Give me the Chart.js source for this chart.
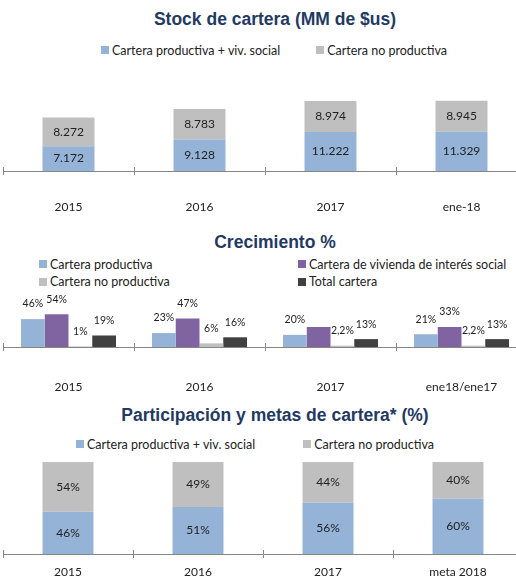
<!DOCTYPE html>
<html lang="es">
<head>
<meta charset="utf-8">
<title>Cartera</title>
<script src="https://cdn.jsdelivr.net/npm/chart.js@4.4.1/dist/chart.umd.min.js"></script>
<style>
    html, body { margin: 0; padding: 0; overflow: hidden; background: #fff; }
    body { width: 516px; height: 579px; position: relative; font-family: Lato, sans-serif; color: #222; }
    .title { position: absolute; left: 0; width: 550px; text-align: center; white-space: nowrap;
             font: bold 17.5px "Liberation Sans", Arial, sans-serif; line-height: 17.5px; color: #1F3A63; }
    .legend { position: absolute; display: flex; justify-content: center; white-space: nowrap;
              font-size: 12.5px; line-height: 15px; }
    .legend.grid { display: grid; grid-template-columns: 259px auto; row-gap: 2.5px; justify-content: start; }
    .legend .item { display: flex; align-items: center; }
    .legend .box { width: 8px; height: 8px; margin-right: 3px; }
    canvas { position: absolute; left: 0; }
</style>
</head>
<body>
<div class="title" style="top:11px">Stock de cartera (MM de $us)</div>
<div class="legend" id="legend1" style="top:42.5px; left:0; width:548px; gap:36px"></div>
<canvas id="stockChart" width="527" height="145" style="top:70px"></canvas>

<div class="title" style="top:234px">Crecimiento %</div>
<div class="legend grid" id="legend2" style="top:256.5px; left:39px"></div>
<canvas id="growthChart" width="527" height="109" style="top:286px"></canvas>

<div class="title" style="top:407px">Participación y metas de cartera* (%)</div>
<div class="legend" id="legend3" style="top:436.5px; left:0; width:510px; gap:48px"></div>
<canvas id="shareChart" width="523" height="122" style="top:458px"></canvas>

<script>
// Stock de cartera (MM de $us)
const stockYears = ['2015', '2016', '2017', 'ene-18'];
const stockProductiva = [7172, 9128, 11222, 11329];
const stockNoProductiva = [8272, 8783, 8974, 8945];

// Crecimiento %
const growthYears = ['2015', '2016', '2017', 'ene18/ene17'];
const growthProductiva = [46, 23, 20, 21];
const growthVivienda = [54, 47, 33, 33];
const growthNoProductiva = [1, 6, 2.2, 2.2];
const growthTotal = [19, 16, 13, 13];
const growthNoLabel = [[1, 2]]; // vivienda 2017 sin etiqueta

// Participación y metas de cartera* (%)
const shareYears = ['2015', '2016', '2017', 'meta 2018'];
const shareProductiva = [46, 51, 56, 60];
const shareNoProductiva = [54, 49, 44, 40];

const colBlue = '#95B3D7';
const colGray = '#BFBFBF';
const colPurple = '#8064A2';
const colDark = '#404040';
const axisColor = '#868686';

Chart.defaults.font.family = 'Lato, sans-serif';
Chart.defaults.color = '#222';
Chart.defaults.animation = false;

const fmtThousands = v => String(v).replace(/\B(?=(\d{3})+(?!\d))/g, '.');
const fmtPct = v => String(v).replace('.', ',') + '%';

const barLabels = {
    id: 'barLabels',
    afterDatasetsDraw(chart, args, opts) {
        const ctx = chart.ctx;
        ctx.save();
        ctx.font = opts.size + 'px Lato, sans-serif';
        ctx.fillStyle = '#222';
        ctx.textAlign = 'center';
        ctx.textBaseline = 'middle';
        chart.data.datasets.forEach((ds, di) => {
            chart.getDatasetMeta(di).data.forEach((bar, i) => {
                if ((opts.skip || []).some(s => s[0] === di && s[1] === i)) return;
                const y = opts.inside ? (bar.y + bar.base) / 2 : bar.y - opts.offset;
                ctx.fillText(opts.format(ds.data[i]), bar.x, y);
            });
        });
        ctx.restore();
    }
};

// marcas del eje que cruzan la línea
const crossTicks = {
    id: 'crossTicks',
    afterDraw(chart) {
        const sx = chart.scales.x;
        const n = chart.data.labels.length;
        const w = (sx.right - sx.left) / n;
        const ctx = chart.ctx;
        ctx.save();
        ctx.strokeStyle = axisColor;
        ctx.lineWidth = 1;
        ctx.beginPath();
        for (let i = 0; i <= n; i++) {
            const px = Math.round(sx.left + i * w) + 0.5;
            ctx.moveTo(px, sx.top - 4);
            ctx.lineTo(px, sx.top);
        }
        ctx.stroke();
        ctx.restore();
    }
};

function xAxis(stacked, padding, height) {
    return {
        stacked: stacked,
        offset: true,
        grid: { offset: true, drawOnChartArea: false, tickLength: 4, color: axisColor },
        border: { display: true, color: axisColor, width: 1 },
        ticks: { padding: padding, color: '#222', font: { size: 12 } },
        afterFit: scale => { scale.height = height; }
    };
}

function baseOptions(stacked, yMax, xPad, xHeight, labelOpts) {
    return {
        responsive: false,
        devicePixelRatio: 1,
        layout: { padding: { left: 3, top: 4, right: 0, bottom: 0 } },
        scales: {
            x: xAxis(stacked, xPad, xHeight),
            y: { display: false, stacked: stacked, min: 0, max: yMax }
        },
        plugins: {
            legend: { display: false },
            tooltip: { enabled: false },
            barLabels: labelOpts
        }
    };
}

function htmlLegend(id, chart) {
    const box = document.getElementById(id);
    chart.data.datasets.forEach(ds => {
        const item = document.createElement('div');
        item.className = 'item';
        const sw = document.createElement('span');
        sw.className = 'box';
        sw.style.background = ds.backgroundColor;
        const txt = document.createElement('span');
        txt.textContent = ds.label;
        item.appendChild(sw);
        item.appendChild(txt);
        box.appendChild(item);
    });
}

const stockChart = new Chart(document.getElementById('stockChart'), {
    type: 'bar',
    data: {
        labels: stockYears,
        datasets: [
            { label: 'Cartera productiva + viv. social', data: stockProductiva, backgroundColor: colBlue,
              barPercentage: 0.397, categoryPercentage: 1 },
            { label: 'Cartera no productiva', data: stockNoProductiva, backgroundColor: colGray,
              barPercentage: 0.397, categoryPercentage: 1 }
        ]
    },
    options: baseOptions(true, 28000, 25, 44, { inside: true, size: 12, format: fmtThousands }),
    plugins: [barLabels, crossTicks]
});

const growthChart = new Chart(document.getElementById('growthChart'), {
    type: 'bar',
    data: {
        labels: growthYears,
        datasets: [
            { label: 'Cartera productiva', data: growthProductiva, backgroundColor: colBlue },
            { label: 'Cartera de vivienda de interés social', data: growthVivienda, backgroundColor: colPurple },
            { label: 'Cartera no productiva', data: growthNoProductiva, backgroundColor: colGray },
            { label: 'Total cartera', data: growthTotal, backgroundColor: colDark }
        ].map(ds => Object.assign(ds, { barPercentage: 1, categoryPercentage: 0.725 }))
    },
    options: baseOptions(false, 94, 29, 48,
        { inside: false, offset: 15, size: 10.5, format: fmtPct, skip: growthNoLabel }),
    plugins: [barLabels, crossTicks]
});

const shareChart = new Chart(document.getElementById('shareChart'), {
    type: 'bar',
    data: {
        labels: shareYears,
        datasets: [
            { label: 'Cartera productiva + viv. social', data: shareProductiva, backgroundColor: colBlue,
              barPercentage: 0.392, categoryPercentage: 1 },
            { label: 'Cartera no productiva', data: shareNoProductiva, backgroundColor: colGray,
              barPercentage: 0.392, categoryPercentage: 1 }
        ]
    },
    options: baseOptions(true, 100, 7, 26, { inside: true, size: 12, format: fmtPct }),
    plugins: [barLabels, crossTicks]
});

htmlLegend('legend1', stockChart);
// orden de la leyenda en dos columnas: productiva, vivienda / no productiva, total
htmlLegend('legend2', growthChart);
htmlLegend('legend3', shareChart);
</script>
</body>
</html>
